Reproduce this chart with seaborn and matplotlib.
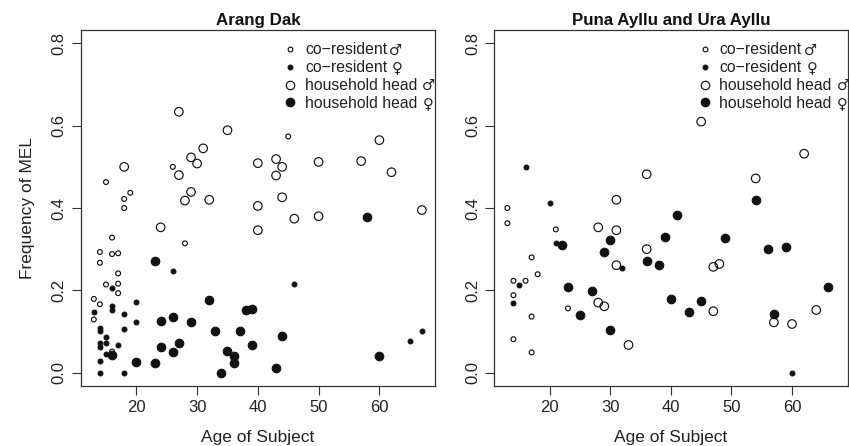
import matplotlib
matplotlib.use("Agg")
import numpy as np
import pandas as pd
import seaborn as sns
import matplotlib.pyplot as plt
from matplotlib.lines import Line2D

# ---------------- data: Arang Dak ----------------
ad_cor_m_age = [15, 18, 19, 18, 26, 45, 28, 16, 14, 14, 16, 17, 17, 15, 17, 17, 13, 14, 13, 16]
ad_cor_m_mel = [0.463, 0.422, 0.437, 0.400, 0.500, 0.574, 0.314, 0.328, 0.293, 0.267, 0.288, 0.290,
                0.241, 0.214, 0.216, 0.193, 0.179, 0.166, 0.129, 0.051]
ad_cor_f_age = [46, 65, 67, 16, 16, 16, 13, 18, 20, 20, 14, 14, 18, 15, 14, 15, 14, 17, 15, 14, 14, 18, 26]
ad_cor_f_mel = [0.216, 0.077, 0.101, 0.205, 0.162, 0.152, 0.146, 0.143, 0.172, 0.123, 0.108, 0.100,
                0.106, 0.086, 0.072, 0.072, 0.063, 0.066, 0.046, 0.029, 0.0, 0.0, 0.247]
ad_hh_m_age = [18, 27, 27, 29, 30, 31, 35, 29, 28, 32, 60, 40, 43, 44, 43, 50, 57, 62, 44, 40, 46, 50, 67, 40, 24]
ad_hh_m_mel = [0.500, 0.634, 0.480, 0.523, 0.508, 0.545, 0.589, 0.439, 0.418, 0.420, 0.565, 0.509,
               0.519, 0.500, 0.479, 0.512, 0.514, 0.487, 0.426, 0.405, 0.374, 0.380, 0.395, 0.346, 0.353]
ad_hh_f_age = [58, 38, 39, 37, 44, 39, 35, 36, 36, 34, 43, 60, 23, 16, 20, 23, 24, 26, 29, 24, 26, 27, 32, 33]
ad_hh_f_mel = [0.378, 0.152, 0.154, 0.102, 0.088, 0.068, 0.053, 0.039, 0.024, 0.0, 0.012, 0.041,
               0.270, 0.042, 0.026, 0.024, 0.126, 0.134, 0.122, 0.063, 0.051, 0.073, 0.177, 0.102]

# ---------------- data: Puna Ayllu and Ura Ayllu ----------------
pu_cor_m_age = [13, 13, 21, 17, 18, 14, 16, 14, 17, 14, 17, 23]
pu_cor_m_mel = [0.400, 0.363, 0.348, 0.280, 0.239, 0.223, 0.223, 0.188, 0.136, 0.081, 0.049, 0.156]
pu_cor_f_age = [16, 20, 21, 32, 15, 14, 60]
pu_cor_f_mel = [0.500, 0.411, 0.314, 0.254, 0.214, 0.169, 0.0]
pu_hh_m_age = [31, 36, 45, 62, 54, 28, 31, 31, 36, 28, 29, 33, 47, 48, 47, 57, 60, 64]
pu_hh_m_mel = [0.420, 0.482, 0.610, 0.532, 0.472, 0.353, 0.346, 0.261, 0.300, 0.170, 0.161, 0.067,
               0.257, 0.264, 0.149, 0.122, 0.118, 0.152]
pu_hh_f_age = [54, 41, 22, 30, 29, 36, 38, 23, 27, 25, 30, 39, 49, 56, 59, 66, 40, 45, 43, 57]
pu_hh_f_mel = [0.420, 0.382, 0.309, 0.321, 0.292, 0.271, 0.262, 0.207, 0.199, 0.139, 0.103, 0.330,
               0.327, 0.300, 0.306, 0.207, 0.178, 0.175, 0.147, 0.143]

groups = ["co\u2212resident \u2642", "co\u2212resident \u2640",
          "household head \u2642", "household head \u2640"]
group_text = ["co\u2212resident", "co\u2212resident", "household head", "household head"]
group_sym = ["\u2642", "\u2640", "\u2642", "\u2640"]
titles = ["Arang Dak", "Puna Ayllu and Ura Ayllu"]
x_ticks = [20, 30, 40, 50, 60]
y_ticks = [0.0, 0.2, 0.4, 0.6, 0.8]
y_tick_labels = ["0.0", "0.2", "0.4", "0.6", "0.8"]


def make_df(series):
    rows = []
    for g, (ages, mels) in zip(groups, series):
        for a, m in zip(ages, mels):
            rows.append((a, m, g))
    return pd.DataFrame(rows, columns=["age", "mel", "group"])


df_ad = make_df([(ad_cor_m_age, ad_cor_m_mel), (ad_cor_f_age, ad_cor_f_mel),
                 (ad_hh_m_age, ad_hh_m_mel), (ad_hh_f_age, ad_hh_f_mel)])
df_pu = make_df([(pu_cor_m_age, pu_cor_m_mel), (pu_cor_f_age, pu_cor_f_mel),
                 (pu_hh_m_age, pu_hh_m_mel), (pu_hh_f_age, pu_hh_f_mel)])

sns.set_style("white")
plt.rcParams['font.family'] = ['Liberation Sans', 'DejaVu Sans']

W, H = 849, 446
fig = plt.figure(figsize=(W / 100, H / 100), dpi=100)
bot, top = 385.7, 30.3
ax1 = fig.add_axes([80.7 / W, (H - bot) / H, (435 - 80.7) / W, (bot - top) / H])
ax2 = fig.add_axes([494.3 / W, (H - bot) / H, (847.5 - 494.3) / W, (bot - top) / H])

INK = "#111111"
style = {groups[0]: dict(s=12, facecolor="none", edgecolor=INK, linewidth=0.85),
         groups[1]: dict(s=12, color=INK, edgecolor=INK, linewidth=0.8),
         groups[2]: dict(s=38, facecolor="none", edgecolor=INK, linewidth=0.85),
         groups[3]: dict(s=38, color=INK, edgecolor=INK, linewidth=0.8)}
leg_ms = [3.4, 3.4, 6.1, 6.1]

legends = []
for ax, df, title, lx in [(ax1, df_ad, titles[0], 0.570), (ax2, df_pu, titles[1], 0.574)]:
    for g in groups:
        sub = df[df["group"] == g]
        sns.scatterplot(data=sub, x="age", y="mel", ax=ax, marker="o", legend=False, **style[g])
    ax.set_xlim(10.84, 69.16)
    ax.set_ylim(-0.032, 0.832)
    ax.set_xticks(x_ticks)
    ax.set_yticks(y_ticks)
    ax.set_yticklabels(y_tick_labels, rotation=90, va="center")
    ax.tick_params(axis="both", which="both", direction="out", length=6.5, width=0.8,
                   labelsize=12, pad=3.5, color="#333333", labelcolor="#222222",
                   left=True, bottom=True, top=False, right=False)
    for sp in ax.spines.values():
        sp.set_color("#333333")
        sp.set_linewidth(0.9)
    ax.set_title(title, fontsize=12.2, fontweight="bold", pad=4, color="#111111")
    ax.set_xlabel("Age of Subject", fontsize=12.5, labelpad=11, color="#222222")
    ax.set_ylabel("")
    handles = []
    for i, g in enumerate(groups):
        filled = group_sym[i] == "\u2640"
        handles.append(Line2D([], [], linestyle="none", marker="o", markersize=leg_ms[i],
                              markerfacecolor=INK if filled else "none",
                              markeredgecolor=INK, markeredgewidth=0.85))
    leg = ax.legend(handles, group_text, loc="upper left", bbox_to_anchor=(lx, 0.966),
                    frameon=False, fontsize=11.3, handlelength=1.0, handletextpad=0.42,
                    labelspacing=0.18, borderpad=0, borderaxespad=0, labelcolor="#222222")
    legends.append(leg)

ax1.set_ylabel("Frequency of MEL", fontsize=12.5, labelpad=12, color="#222222")

# append the gender symbols after each legend label in a font with larger glyphs
fig.canvas.draw()
renderer = fig.canvas.get_renderer()
gaps = [2.0, 5.0, 5.0, 5.0]
for leg in legends:
    for i, t in enumerate(leg.get_texts()):
        bb = t.get_window_extent(renderer)
        xf = (bb.x1 + gaps[i]) / W
        yf = ((bb.y0 + bb.y1) / 2) / H
        fig.text(xf, yf, group_sym[i], fontsize=10.5, family="DejaVu Sans",
                 ha="left", va="center", color="#222222")

fig.savefig("out.png", dpi=100)
